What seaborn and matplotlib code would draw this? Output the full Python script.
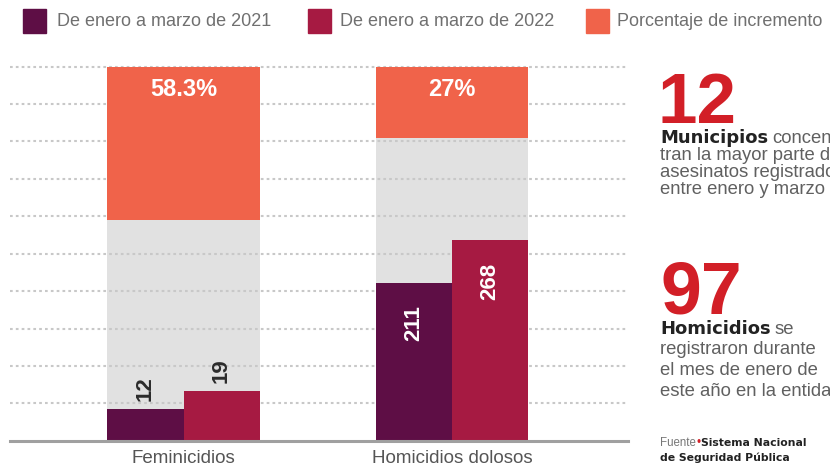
import matplotlib
matplotlib.use('Agg')
import matplotlib.pyplot as plt
from matplotlib.patches import Rectangle
import seaborn as sns
import pandas as pd
import numpy as np

# datos
categorias = ['Feminicidios', 'Homicidios dolosos']
periodos = ['De enero a marzo de 2021', 'De enero a marzo de 2022']
valores_2021 = [12, 211]
valores_2022 = [19, 268]
incremento = [58.3, 27]
etiquetas_leyenda = periodos + ['Porcentaje de incremento']

# la infografía dibuja cada grupo con su propia escala visual
escala = [0.7, 0.2]
escala_pct = 0.705

morado = '#5E0E45'
carmin = '#A61A42'
naranja = '#F0634A'
gris_fondo = '#E1E1E1'
rojo = '#D21F27'
gris_txt = '#606060'

sns.set_theme(style='white')
plt.rcParams['font.family'] = ['Liberation Sans', 'DejaVu Sans']

W, H = 830, 468
fig = plt.figure(figsize=(W / 100, H / 100), dpi=100)


def fx(x):
    return x / W


def fy(y):
    return 1 - y / H


ax = fig.add_axes([fx(10), fy(440.7), fx(628) - fx(10), fy(66.7) - fy(440.7)])

df = pd.DataFrame({
    'categoria': categorias * 2,
    'periodo': [periodos[0]] * 2 + [periodos[1]] * 2,
    'valor': valores_2021 + valores_2022,
})
df['altura'] = df['valor'] * np.array(escala * 2)

ancho = 0.566
sns.barplot(data=df, x='categoria', y='altura', hue='periodo', order=categorias,
            hue_order=periodos, palette=[morado, carmin], width=ancho,
            saturation=1, legend=False, linewidth=0, ax=ax, zorder=2)
barras = list(ax.containers)

pos = np.arange(len(categorias))
ax.bar(pos, [100] * len(pos), width=ancho, color=gris_fondo, zorder=0.1, linewidth=0)
alt_pct = np.array(incremento) * escala_pct
ax.bar(pos, alt_pct, bottom=100 - alt_pct, width=ancho, color=naranja, zorder=2, linewidth=0)

# etiquetas de valores
for cont, vals in zip(barras, [valores_2021, valores_2022]):
    for rect, v in zip(cont.patches, vals):
        xc = rect.get_x() + rect.get_width() / 2
        top = rect.get_height()
        if top > 25:
            ax.annotate(str(v), (xc, top), xytext=(0, -16), textcoords='offset points',
                        rotation=90, ha='center', va='top', color='white',
                        fontsize=16, fontweight='bold', zorder=5)
        else:
            ax.annotate(str(v), (xc, top), xytext=(0, 6), textcoords='offset points',
                        rotation=90, ha='center', va='bottom', color='#2b2b2b',
                        fontsize=16, fontweight='bold', zorder=5)

for p, pct in zip(pos, incremento):
    ax.annotate(f'{pct:g}%', (p, 100), xytext=(0, -16.5), textcoords='offset points',
                ha='center', va='center', color='white', fontsize=17,
                fontweight='bold', zorder=5)

ax.set_ylim(0, 100)
ax.set_xlim(-0.646, 1.655)
ax.set_yticks(np.arange(10, 101, 10))
ax.yaxis.grid(True, linestyle=(0, (1.3, 1.5)), color='#c8c8c8', linewidth=1.5)
ax.set_axisbelow(True)
for gl in ax.get_ygridlines():
    gl.set_clip_on(False)
ax.tick_params(axis='y', left=False, labelleft=False)
ax.tick_params(axis='x', bottom=False, labelsize=13.5, labelcolor='#555555', pad=1)
ax.set_xlabel('')
ax.set_ylabel('')
sns.despine(ax=ax, left=True)
ax.spines['bottom'].set_color('#a0a0a0')
ax.spines['bottom'].set_linewidth(2.2)
ax.patch.set_alpha(0)

# leyenda
for xs, xt, col, lab in zip([23, 308, 586], [57, 340, 617],
                            [morado, carmin, naranja], etiquetas_leyenda):
    fig.add_artist(Rectangle((fx(xs), fy(33)), 23 / W, 24 / H, color=col,
                             transform=fig.transFigure))
    fig.text(fx(xt), fy(21.5), lab, va='center', ha='left', fontsize=13,
             color='#707070')

# texto lateral
rend = fig.canvas.get_renderer()


def linea(x, y, partes, gap=4):
    for texto, props in partes:
        t = fig.text(fx(x), fy(y), texto, va='baseline', ha='left', **props)
        w = t.get_window_extent(renderer=rend).width
        x += w + gap


negrita = dict(family='DejaVu Sans', fontweight='bold', fontsize=13, color='#222222')
normal = dict(fontsize=13.3, color=gris_txt)

fig.text(fx(657), fy(123), '12', va='baseline', ha='left', fontsize=51,
         fontweight='bold', color=rojo)
linea(660, 143, [('Municipios', negrita), ('concen', normal)])
for i, t in enumerate(['tran la mayor parte de', 'asesinatos registrados',
                       'entre enero y marzo']):
    linea(660, 160 + 16.8 * i, [(t, normal)])

fig.text(fx(660), fy(313), '97', va='baseline', ha='left', fontsize=53,
         fontweight='bold', color=rojo)
linea(660, 334, [('Homicidios', negrita), ('se', normal)])
for i, t in enumerate(['registraron durante', 'el mes de enero de',
                       'este año en la entidad']):
    linea(660, 354 + 20.8 * i, [(t, normal)])

chico_n = dict(family='DejaVu Sans', fontweight='bold', fontsize=7.8, color='#222222')
linea(660, 446, [('Fuente', dict(fontsize=8.3, color='#777777')),
                 ('•', dict(fontsize=8.3, color=rojo)),
                 ('Sistema Nacional', chico_n)], gap=0.5)
linea(660, 461, [('de Seguridad Pública', chico_n)])

fig.savefig('out.png', dpi=100)
